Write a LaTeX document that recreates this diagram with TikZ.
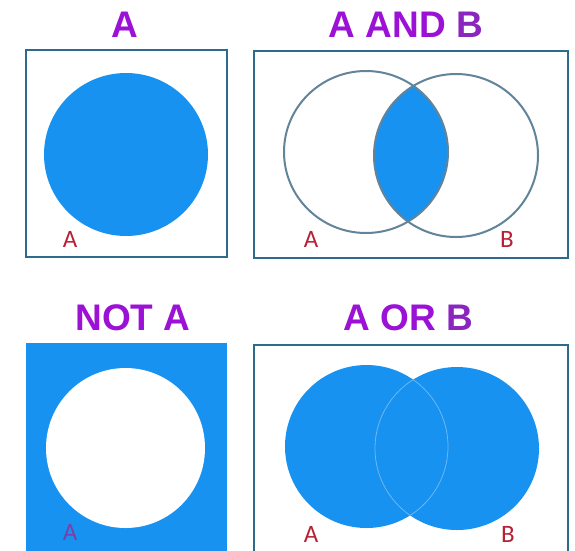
\documentclass[tikz,border=0pt]{standalone}
\usepackage{fontspec}
\setmainfont{Carlito}
\newfontfamily\headfont{Liberation Sans}
\usepackage{xcolor}
\usepackage{tikz}

\definecolor{setblue}{HTML}{1792F0}
\definecolor{framecol}{HTML}{2D6A8C}
\definecolor{rimcol}{HTML}{62849A}
\definecolor{seamcol}{HTML}{6BB8F5}
\definecolor{headpurple}{HTML}{9B12D6}
\definecolor{headpurpleb}{HTML}{8A25BE}
\definecolor{namered}{HTML}{B82035}
\definecolor{namedark}{HTML}{7A3FA8}

\begin{document}
\begin{tikzpicture}[
  x=1pt, y=-1pt,
  heading/.style={font=\headfont\bfseries\fontsize{37}{37}\selectfont,
    text=headpurple, anchor=base, inner sep=0pt},
  setname/.style={font=\fontsize{25}{25}\selectfont, text=namered,
    anchor=base, inner sep=0pt},
  frame/.style={draw=framecol, line width=2.6pt},
  rim/.style={draw=rimcol, line width=2pt},
  seam/.style={draw=seamcol, line width=0.8pt},
  setfill/.style={fill=setblue}
]
\useasboundingbox (0,0) rectangle (575,550);
\clip (0,0) rectangle (575,550);
\fill[white] (0,0) rectangle (575,550);

% circle centres
\coordinate (a1) at (126,154.5);
\coordinate (a2) at (366,152);
\coordinate (b2) at (456,155.5);
\coordinate (a3) at (125.5,448);
\coordinate (a4) at (366.5,446.5);
\coordinate (b4) at (457,448.5);

% A
\node[heading] (hA) at (125,37) {A};
\draw[frame] (26,50) rectangle (227,257);
\fill[setfill] (a1) ellipse [x radius=82pt, y radius=81.5pt];
\node[setname] (nA1) at (70,247) {A};

% A AND B
\node[heading] (hAnd) at (406,37) {A AND {\color{headpurpleb}B}};
\draw[frame] (254,51) rectangle (568,258);
\begin{scope}
  \clip (a2) ellipse [x radius=82pt, y radius=81pt];
  \fill[setfill] (b2) ellipse [x radius=82pt, y radius=81.5pt];
\end{scope}
\draw[rim] (a2) ellipse [x radius=82pt, y radius=81pt];
\draw[rim] (b2) ellipse [x radius=82pt, y radius=81.5pt];
\node[setname] (nA2) at (311,247) {A};
\node[setname] (nB2) at (507,247) {B};

% NOT A
\node[heading] (hNot) at (133,330) {NOT A};
\fill[setfill] (26,343) rectangle (227,552);
\fill[white] (a3) ellipse [x radius=79.5pt, y radius=80pt];
\node[setname, text=namedark] (nA3) at (70,540) {A};

% A OR B
\node[heading] (hOr) at (408,330) {A OR {\color{headpurpleb}B}};
\draw[frame] (254,345) rectangle (568,553);
\fill[setfill] (a4) ellipse [x radius=81.5pt, y radius=81.5pt];
\fill[setfill] (b4) ellipse [x radius=82pt, y radius=81.5pt];
\begin{scope}
  \clip (a4) ellipse [x radius=81.5pt, y radius=81.5pt];
  \draw[seam] (b4) ellipse [x radius=82pt, y radius=81.5pt];
\end{scope}
\begin{scope}
  \clip (b4) ellipse [x radius=82pt, y radius=81.5pt];
  \draw[seam] (a4) ellipse [x radius=81.5pt, y radius=81.5pt];
\end{scope}
\node[setname] (nA4) at (311,542) {A};
\node[setname] (nB4) at (508,542) {B};
\end{tikzpicture}
\end{document}
